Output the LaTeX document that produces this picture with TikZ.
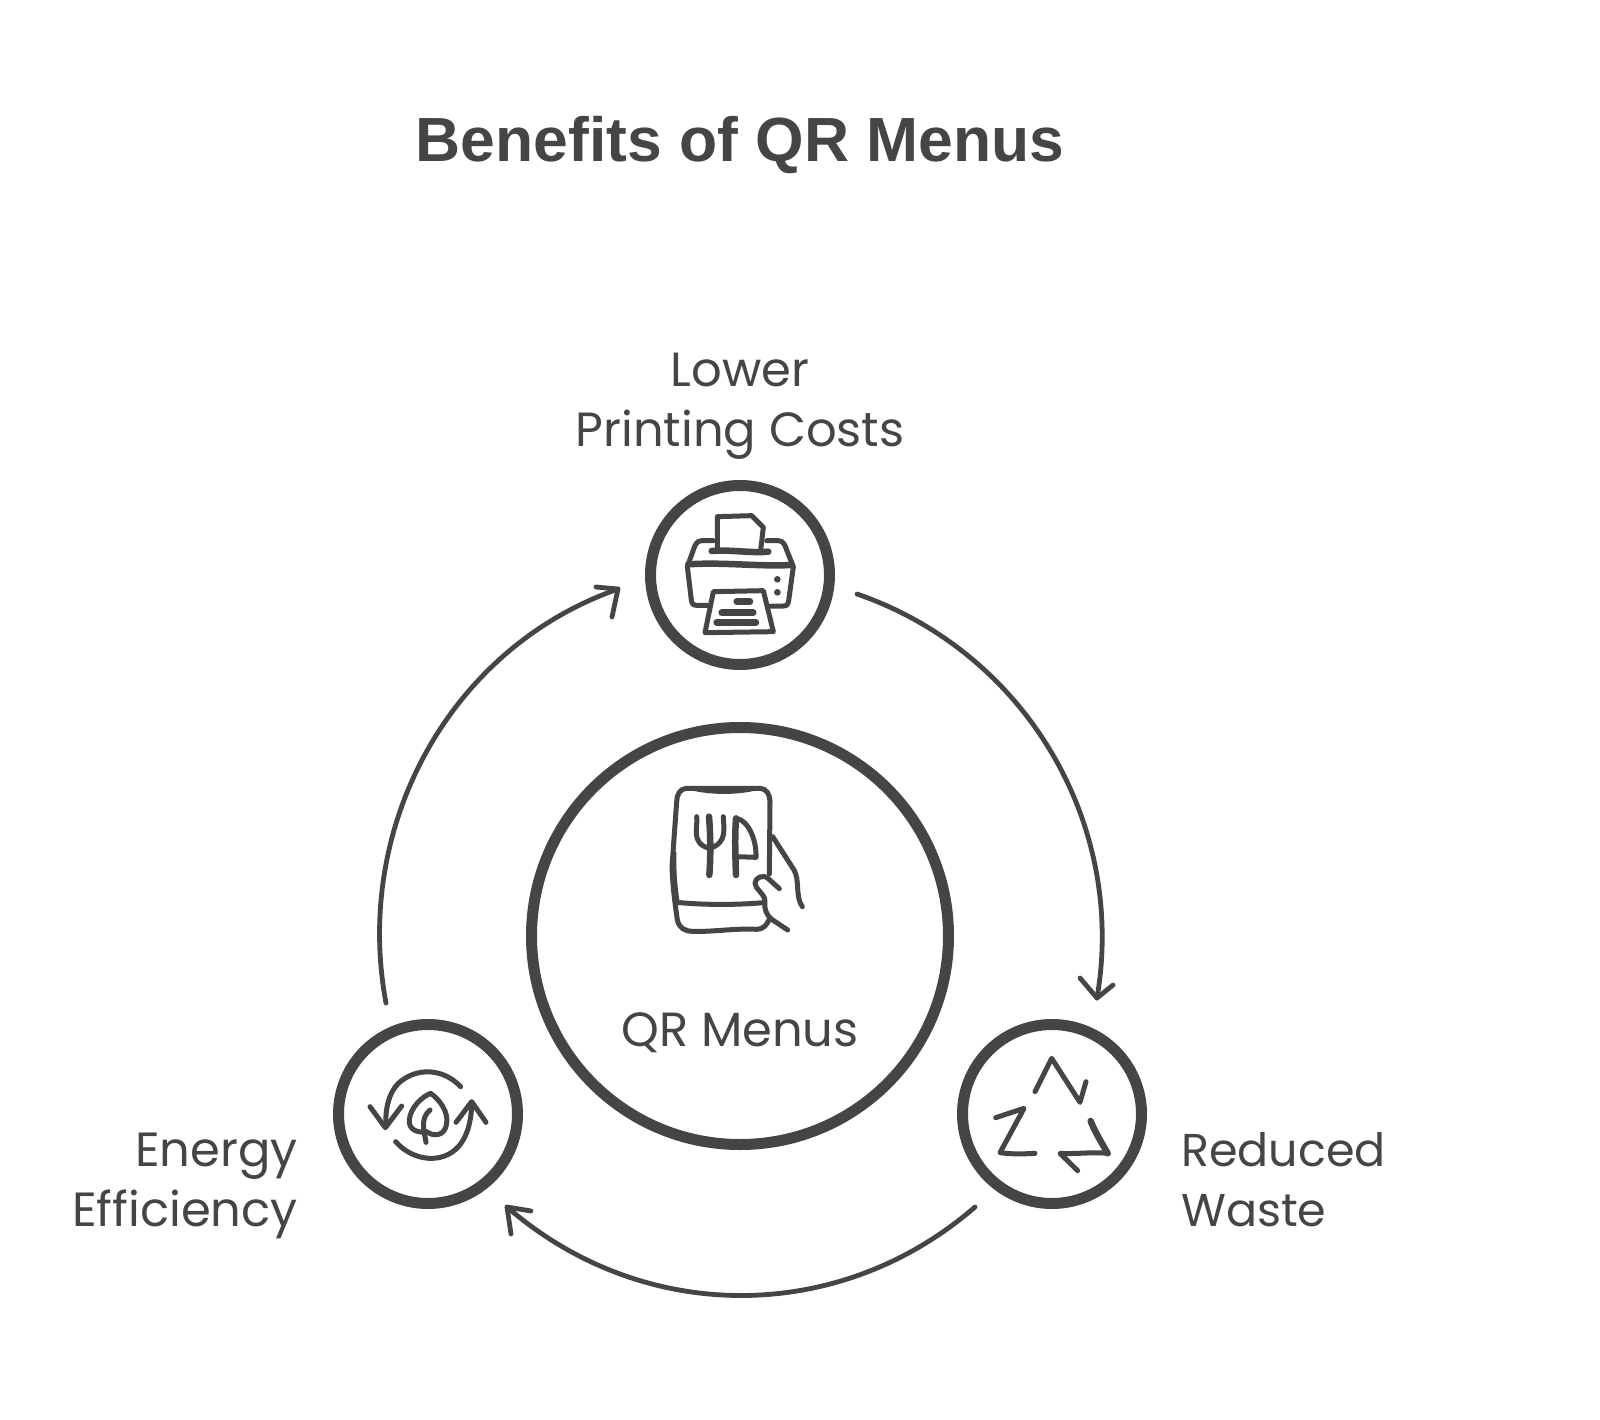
\documentclass[tikz,border=0pt]{standalone}
\usepackage{fontspec}
\setmainfont{Poppins}
\newfontfamily\titlefont{Liberation Sans}[BoldFont={Liberation Sans Bold}]
\definecolor{ink}{HTML}{454545}
\tikzset{
  x=1pt, y=-1pt,
  ring/.style={circle, draw=ink, line width=11pt, minimum size=179pt, inner sep=0pt},
  hub/.style={circle, draw=ink, line width=11pt, minimum size=417pt, inner sep=0pt},
  label/.style={text=ink, font=\fontsize{48}{60}\selectfont, inner sep=0pt},
  flow/.style={draw=ink, line width=4.8pt, line cap=round, line join=round},
  glyph/.style={draw=ink, line width=5pt, line cap=round, line join=round},
  heavy/.style={draw=ink, line width=6.5pt, line cap=round, line join=round}
}
\begin{document}
\begin{tikzpicture}
\useasboundingbox (0,0) rectangle (1600,1420);
\fill[white] (0,0) rectangle (1600,1420);

% Heading
\node[text=ink, inner sep=0pt, font=\titlefont\bfseries\fontsize{62.4}{70}\selectfont] (title) at (740,145) {Benefits of QR Menus};

% Central hub and three satellites
\node[hub] (hubc) at (740,936) {};
\node[ring] (printing) at (740,575) {};
\node[ring] (energy) at (428,1114) {};
\node[ring] (waste) at (1052,1114) {};

% Captions
\node[label, align=center] (lbltop) at (740,406) {Lower\\Printing Costs};
\node[label] (lblhub) at (740,1033) {QR Menus};
\node[label, align=right, anchor=east] (lblenergy) at (298,1186) {Energy\\Efficiency};
\node[label, font=\fontsize{46}{60}\selectfont, align=left, anchor=west] (lblwaste) at (1181,1180) {Reduced\\Waste};

% Cycle arrows: arcs concentric with the hub
\coordinate (a1s) at (857,594);
\coordinate (a1e) at (1097,998);
\coordinate (a2s) at (975,1207);
\coordinate (a2e) at (507,1207);
\coordinate (a3s) at (386,1003);
\coordinate (a3e) at (618,589);
\draw[flow] (a1s) .. controls (1025,652) and (1127,823) .. (a1e);
\draw[flow] (1080,978) -- (a1e) -- (1113,985);
\draw[flow] (a2s) .. controls (839,1325) and (643,1325) .. (a2e);
\draw[flow] (531,1211) -- (a2e) -- (511,1234);
\draw[flow] (a3s) .. controls (353,827) and (449,648) .. (a3e);
\draw[flow] (596,587) -- (a3e) -- (612,617);

% Printer icon
\begin{scope}[shift={(630,470)}, scale=1/3]
  \draw[glyph] (262,240) -- (262,140) -- (365,137) -- (400,172) -- (392,240);
  \draw[heavy] (245,243) .. controls (300,238) and (360,250) .. (415,245);
  \draw[glyph] (250,212) -- (215,212) .. controls (200,212) and (195,225) .. (190,240)
    -- (172,290) -- (184,390) .. controls (186,402) and (190,406) .. (200,406) -- (240,406);
  \draw[glyph] (410,212) -- (445,212) .. controls (460,212) and (465,225) .. (470,240)
    -- (490,290) -- (476,392) .. controls (474,404) and (470,408) .. (460,408) -- (422,408);
  \draw[heavy] (175,283) .. controls (280,276) and (380,290) .. (485,285);
  \draw[glyph] (250,365) -- (400,362) -- (430,485) -- (225,488) -- cycle;
  \draw[heavy] (320,395) -- (360,395);
  \draw[heavy] (275,428) -- (370,428);
  \draw[heavy] (260,457) -- (378,457);
  \fill[ink] (442,328) circle (10);
  \fill[ink] (442,367) circle (10);
\end{scope}

% Phone with cutlery, held in a hand
\begin{scope}[shift={(640,770)}, scale=1/3]
  \draw[glyph] (140,55) -- (360,55) .. controls (380,55) and (390,75) .. (390,95)
    -- (388,312);
  \draw[glyph] (140,55) .. controls (120,55) and (110,75) .. (110,95)
    -- (96,290) .. controls (98,350) and (105,400) .. (112,450)
    .. controls (118,475) and (135,484) .. (160,484)
    .. controls (220,486) and (290,474) .. (350,478)
    .. controls (370,478) and (380,465) .. (388,448);
  \fill[ink] (135,56) .. controls (200,76) and (300,78) .. (365,56) -- cycle;
  \draw[glyph] (102,250) .. controls (100,300) and (104,350) .. (112,400);
  \draw[glyph] (120,398) .. controls (200,405) and (290,405) .. (370,398);
  \draw[glyph] (170,140) .. controls (175,170) and (150,220) .. (208,235);
  \draw[glyph] (250,140) .. controls (250,170) and (265,220) .. (208,235);
  \draw[heavy] (207,140) .. controls (212,200) and (212,260) .. (208,315);
  \draw[heavy] (288,145) .. controls (284,200) and (286,260) .. (288,315);
  \draw[glyph] (288,145) .. controls (325,150) and (350,210) .. (348,262) -- (290,260);
  \draw[glyph] (398,200) -- (462,300) .. controls (480,330) and (465,380) .. (487,410);
  \draw[glyph] (418,356) -- (385,326) .. controls (370,312) and (345,322) .. (345,340)
    .. controls (345,358) and (375,370) .. (375,395) .. controls (372,420) and (380,435) .. (395,448) -- (443,480);
\end{scope}

% Leaf inside two circling arrows
\begin{scope}[shift={(330,1015)}, scale=1/3]
  \draw[glyph] (392,215) .. controls (340,160) and (260,155) .. (205,205)
    .. controls (175,235) and (165,285) .. (168,335);
  \draw[glyph] (120,275) -- (166,338) -- (215,273);
  \draw[glyph] (197,380) .. controls (240,430) and (320,450) .. (375,405)
    .. controls (410,375) and (425,320) .. (425,262);
  \draw[glyph] (378,322) -- (425,260) -- (468,322);
  \draw[glyph] (302,235) .. controls (330,255) and (355,290) .. (350,325)
    .. controls (345,365) and (310,365) .. (290,350)
    .. controls (265,355) and (235,345) .. (238,315)
    .. controls (240,280) and (275,245) .. (302,235);
  \draw[glyph] (300,285) .. controls (270,310) and (282,345) .. (288,382);
\end{scope}

% Recycling triangle
\begin{scope}[shift={(950,1015)}, scale=1/3]
  \draw[glyph] (255,230) -- (305,130) -- (390,262) -- (408,200);
  \draw[glyph] (137,308) -- (222,280) -- (150,413) .. controls (185,418) and (220,417) .. (255,415);
  \draw[heavy] (422,318) .. controls (432,345) and (450,375) .. (473,415);
  \draw[glyph] (473,415) .. controls (425,410) and (380,418) .. (330,415) -- (383,467);
\end{scope}
\end{tikzpicture}
\end{document}
